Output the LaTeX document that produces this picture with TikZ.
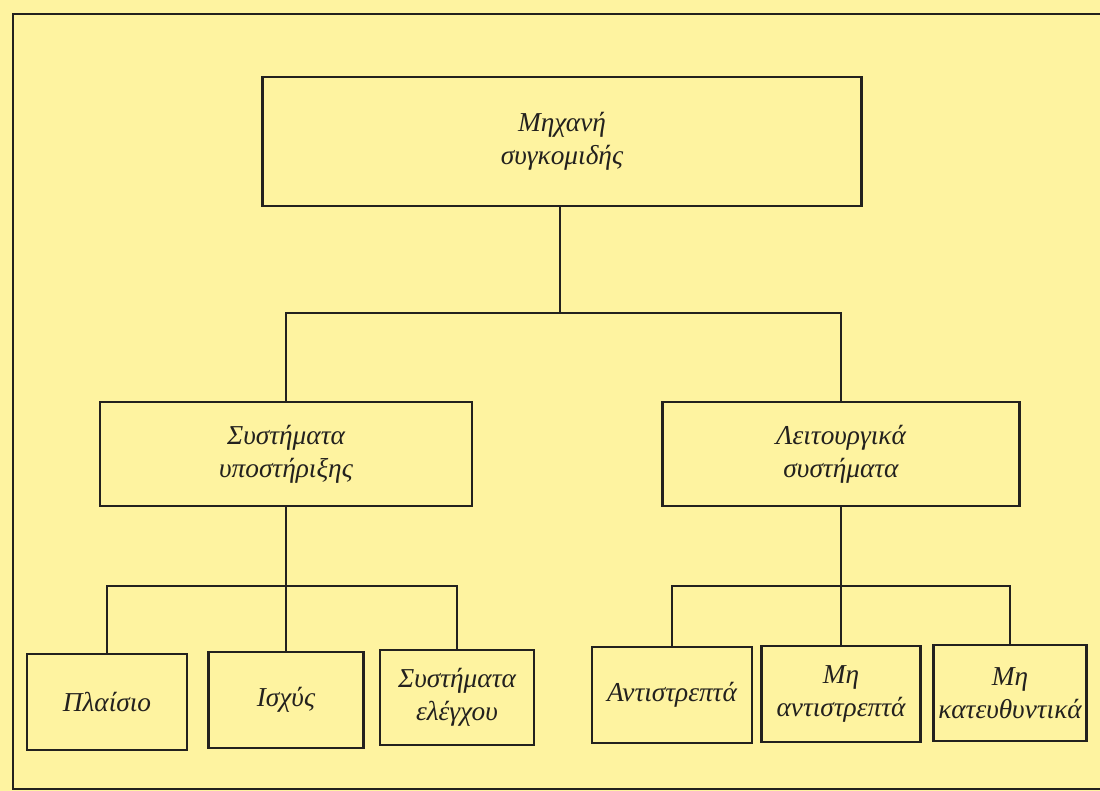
\documentclass[tikz,border=0pt]{standalone}
\usepackage{fontspec}
\setmainfont{Liberation Serif}
\definecolor{paper}{RGB}{254,243,160}
\definecolor{ink}{RGB}{35,33,30}
\begin{document}
\begin{tikzpicture}[x=0.75pt,y=-0.75pt,
  box/.style={draw=ink, line width=2.1pt, rectangle, inner sep=0pt, align=center,
    font=\fontsize{20.5}{24.5}\selectfont\itshape, text=ink},
  wire/.style={draw=ink, line width=2.1pt}]
\useasboundingbox (0,0) rectangle (1100,791);
\clip (0,0) rectangle (1100,791);
\fill[paper] (0,0) rectangle (1100,791);
\draw[wire] (1110,14) -- (13,14) -- (13,789) -- (1110,789);
% nodes (minimum sizes in px * 0.75)
\node[box, minimum width=449.25pt, minimum height=96.75pt] (top) at (562,141.5) {Μηχανή\\συγκομιδής};
\node[box, minimum width=279pt, minimum height=78pt] (lm) at (286,454) {Συστήματα\\υποστήριξης};
\node[box, minimum width=267.75pt, minimum height=78pt] (rm) at (841,454) {Λειτουργικά\\συστήματα};
\node[box, minimum width=120pt, minimum height=72pt] (b1) at (107,702) {Πλαίσιο};
\node[box, minimum width=116.25pt, minimum height=72pt] (b2) at (286,700) {Ισχύς};
\node[box, minimum width=115.5pt, minimum height=71.25pt] (b3) at (457,697.5) {Συστήματα\\ελέγχου};
\node[box, minimum width=120pt, minimum height=72pt] (b4) at (672,695) {Αντιστρεπτά};
\node[box, minimum width=119.25pt, minimum height=72pt] (b5) at (841,694) {Μη\\αντιστρεπτά};
\node[box, minimum width=114.75pt, minimum height=72pt] (b6) at (1010,693) {Μη\\κατευθυντικά};
% junctions
\coordinate (j1) at (560,313);
\coordinate (j2) at (286,586);
\coordinate (j3) at (841,586);
\draw[wire] (top.south -| j1) -- (j1);
\draw[wire] (lm.north) |- (j1) -| (rm.north);
\draw[wire] (lm.south) -- (j2);
\draw[wire] (b1.north) |- (j2) -| (b3.north);
\draw[wire] (b2.north) -- (j2);
\draw[wire] (rm.south) -- (j3);
\draw[wire] (b4.north) |- (j3) -| (b6.north);
\draw[wire] (b5.north) -- (j3);
\end{tikzpicture}
\end{document}
